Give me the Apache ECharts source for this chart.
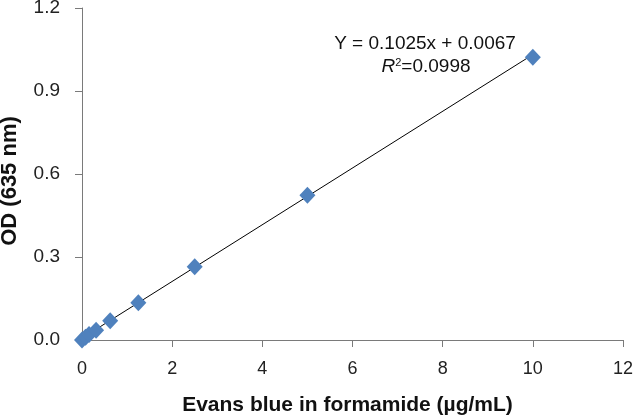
<!DOCTYPE html>
<html><head><meta charset="utf-8">
<script src="https://cdn.jsdelivr.net/npm/echarts@6/dist/echarts.min.js"></script>
<style>html,body{margin:0;padding:0;background:#fff}#c{width:633px;height:418px}</style>
</head><body><div id="c"></div>
<script>
const concentrations = [0, 0.078, 0.156, 0.3125, 0.625, 1.25, 2.5, 5, 10];
const odValues = [0, 0.010, 0.020, 0.035, 0.070, 0.135, 0.265, 0.523, 1.022];
const slope = 0.1025, intercept = 0.0067;
const trendX = [0, 10];
const xTicks = [0, 2, 4, 6, 8, 10, 12];
const yTicks = [0.0, 0.3, 0.6, 0.9, 1.2];

const chart = echarts.init(document.getElementById('c'), null, {renderer: 'canvas'});
const font = 'Liberation Sans, Arial, sans-serif';
chart.setOption({
  animation: false,
  grid: {left: 82, right: 10, top: 8, bottom: 78, containLabel: false, outerBoundsMode: 'none'},
  xAxis: {
    type: 'value', min: xTicks[0], max: xTicks[xTicks.length - 1], interval: xTicks[1] - xTicks[0],
    axisLine: {lineStyle: {color: '#7a7a7a', width: 1}},
    axisTick: {show: true, length: 7, lineStyle: {color: '#7a7a7a'}},
    splitLine: {show: false},
    axisLabel: {color: '#222', fontSize: 18, fontFamily: font, margin: 20},
    name: 'Evans blue in formamide (\u00b5g/mL)', nameLocation: 'middle', nameGap: 55,
    nameTextStyle: {color: '#111', fontSize: 21, fontWeight: 'bold', fontFamily: font, padding: [0, 10, 0, 0]}
  },
  yAxis: {
    type: 'value', min: yTicks[0], max: yTicks[yTicks.length - 1], interval: yTicks[1] - yTicks[0],
    axisLine: {show: true, lineStyle: {color: '#7a7a7a', width: 1}},
    axisTick: {show: true, length: 7, lineStyle: {color: '#7a7a7a'}},
    splitLine: {show: false},
    axisLabel: {color: '#222', fontSize: 19, fontFamily: font, margin: 22,
      formatter: v => v.toFixed(1)},
    name: 'OD (635 nm)', nameLocation: 'middle', nameGap: 61, nameRotate: 90,
    nameTextStyle: {color: '#111', fontSize: 22, fontWeight: 'bold', fontFamily: font, padding: [0, 14, 0, 0]}
  },
  series: [
    {type: 'line', data: trendX.map(x => [x, slope * x + intercept]), symbol: 'none',
     lineStyle: {color: '#000', width: 1}, z: 2},
    {type: 'scatter', data: concentrations.map((x, i) => [x, odValues[i]]),
     symbol: 'diamond', symbolSize: [16, 17], itemStyle: {color: '#4F81BD', opacity: 1}, z: 3}
  ],
  graphic: [
    {type: 'text', x: 425, y: 44,
     style: {text: 'Y = 0.1025x + 0.0067', font: '19px ' + font, fill: '#111',
       align: 'center', verticalAlign: 'middle'}},
    {type: 'text', x: 426, y: 67,
     style: {text: '{i|R}{s|2}{n|=0.0998}', font: '19px ' + font, fill: '#111',
       align: 'center', verticalAlign: 'middle',
       rich: {i: {fontStyle: 'italic', fontSize: 19, fontFamily: font},
              s: {fontSize: 11, verticalAlign: 'top', fontFamily: font, padding: [0, 0, 8, 0]},
              n: {fontSize: 19, fontFamily: font}}}}
  ]
});
</script></body></html>
